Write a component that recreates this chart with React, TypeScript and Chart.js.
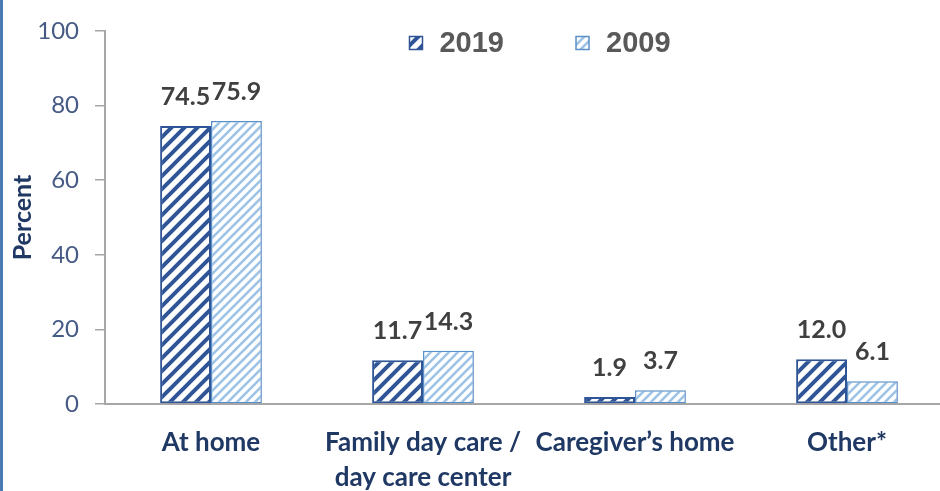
import { useEffect, useRef } from "react";
import { Chart, registerables } from "chart.js";

Chart.register(...registerables);

const categories: string[][] = [
  ["At home"],
  ["Family day care /", "day care center"],
  ["Caregiver’s home"],
  ["Other*"],
];
const seriesNames = ["2019", "2009"];
const values2019 = [74.5, 11.7, 1.9, 12.0];
const values2009 = [75.9, 14.3, 3.7, 6.1];
const yMin = 0;
const yMax = 100;
const yStep = 20;

const NAVY = "#1f3864";
const TICK_COLOR = "#465a85";
const AXIS_GRAY = "#a6a6a6";

function makeStripes(ctx: CanvasRenderingContext2D, period: number, lineWidth: number, color: string) {
  const c = document.createElement("canvas");
  c.width = period;
  c.height = period;
  const g = c.getContext("2d")!;
  g.fillStyle = "#ffffff";
  g.fillRect(0, 0, period, period);
  g.strokeStyle = color;
  g.lineWidth = lineWidth;
  g.beginPath();
  for (const s of [0, period, 2 * period]) {
    g.moveTo(-period, s + period);
    g.lineTo(s + period, -period);
  }
  g.stroke();
  return ctx.createPattern(c, "repeat")!;
}

export default function App() {
  const ref = useRef<HTMLCanvasElement | null>(null);

  useEffect(() => {
    let chart: Chart | null = null;
    let cancelled = false;
    const fontsReady = Promise.all([
      document.fonts.load("bold 24px Lato"),
      document.fonts.load("24px Lato"),
      document.fonts.load("bold 29px 'Liberation Sans'"),
    ]).catch(() => null);

    fontsReady.then(() => {
      if (cancelled || !ref.current) return;
      const canvas = ref.current;
      const ctx = canvas.getContext("2d")!;
      const pat2019 = makeStripes(ctx, 13, 4, "#2f5597");
      const pat2009 = makeStripes(ctx, 9, 2.6, "#9dc3e6");
      const fills = [pat2019, pat2009];
      const borders = ["#2f5597", "#5b8fc7"];

      const labelPlugin = {
        id: "valueLabels",
        afterDatasetsDraw(c: Chart) {
          const g = c.ctx;
          g.save();
          g.font = "bold 25px Lato";
          g.fillStyle = "#404040";
          g.textAlign = "center";
          g.textBaseline = "alphabetic";
          c.data.datasets.forEach((ds, di) => {
            const meta = c.getDatasetMeta(di);
            meta.data.forEach((el: any, i: number) => {
              const v = ds.data[i] as number;
              g.fillText(v.toFixed(1), el.x, el.y - 21);
            });
          });
          g.restore();
        },
      };

      const legendPlugin = {
        id: "customLegend",
        afterDraw(c: Chart) {
          const g = c.ctx;
          const area = c.chartArea;
          g.save();
          g.font = "bold 29px 'Liberation Sans'";
          const box = 13;
          const gapText = 17;
          const gapItem = 72;
          const widths = seriesNames.map((n) => box + gapText + g.measureText(n).width);
          const total = widths[0] + widths[1] + gapItem;
          let x = (area.left + area.right) / 2 + 11 - total / 2;
          const midY = 43;
          seriesNames.forEach((n, i) => {
            g.fillStyle = fills[i];
            g.fillRect(x, midY - box / 2, box, box);
            g.strokeStyle = borders[i];
            g.lineWidth = 1.5;
            g.strokeRect(x, midY - box / 2, box, box);
            g.fillStyle = "#595959";
            g.textAlign = "left";
            g.textBaseline = "middle";
            g.fillText(n, x + box + gapText, midY + 1);
            x += widths[i] + gapItem;
          });
          g.restore();
        },
      };

      chart = new Chart(canvas, {
        type: "bar",
        data: {
          labels: categories,
          datasets: [
            {
              label: seriesNames[0],
              data: values2019,
              backgroundColor: pat2019,
              borderColor: borders[0],
              borderWidth: 2,
              borderSkipped: false,
              categoryPercentage: 0.48,
              barPercentage: 1,
            },
            {
              label: seriesNames[1],
              data: values2009,
              backgroundColor: pat2009,
              borderColor: borders[1],
              borderWidth: 1.5,
              borderSkipped: false,
              categoryPercentage: 0.48,
              barPercentage: 1,
            },
          ],
        },
        options: {
          responsive: false,
          animation: false,
          layout: { padding: { top: 31, right: 7, left: 0, bottom: 0 } },
          plugins: {
            legend: { display: false },
            tooltip: { enabled: false },
          },
          scales: {
            x: {
              grid: { display: false, drawTicks: false },
              border: { display: true, color: AXIS_GRAY, width: 2 },
              ticks: {
                color: NAVY,
                font: { family: "Lato", size: 26, weight: "bold", lineHeight: 1.36 },
                padding: 21,
                maxRotation: 0,
                autoSkip: false,
              },
              afterFit(scale: any) {
                scale.height = 87;
              },
            },
            y: {
              min: yMin,
              max: yMax,
              ticks: {
                stepSize: yStep,
                color: TICK_COLOR,
                font: { family: "Lato", size: 24 },
                padding: 16,
              },
              grid: {
                drawOnChartArea: false,
                drawTicks: true,
                tickLength: 10,
                color: AXIS_GRAY,
                lineWidth: 1.5,
              },
              border: { display: true, color: AXIS_GRAY, width: 2 },
              title: {
                display: true,
                text: "Percent",
                color: NAVY,
                font: { family: "Lato", size: 25, weight: "bold", lineHeight: 1.2 },
                padding: { top: 8, bottom: 0 },
              },
              afterFit(scale: any) {
                scale.width = 105;
              },
            },
          },
        },
        plugins: [labelPlugin, legendPlugin],
      });
    });

    return () => {
      cancelled = true;
      if (chart) chart.destroy();
    };
  }, []);

  return (
    <div
      style={{
        position: "fixed",
        left: 0,
        top: 0,
        width: 940,
        height: 491,
        overflow: "hidden",
        background: "#ffffff",
      }}
    >
      <canvas
        ref={ref}
        width={960}
        height={491}
        style={{ position: "absolute", left: 0, top: 0, width: 960, height: 491 }}
      />
      <div
        style={{
          position: "absolute",
          left: 0,
          top: 0,
          width: 3,
          height: 491,
          background: "#4a7ab0",
        }}
      />
    </div>
  );
}
